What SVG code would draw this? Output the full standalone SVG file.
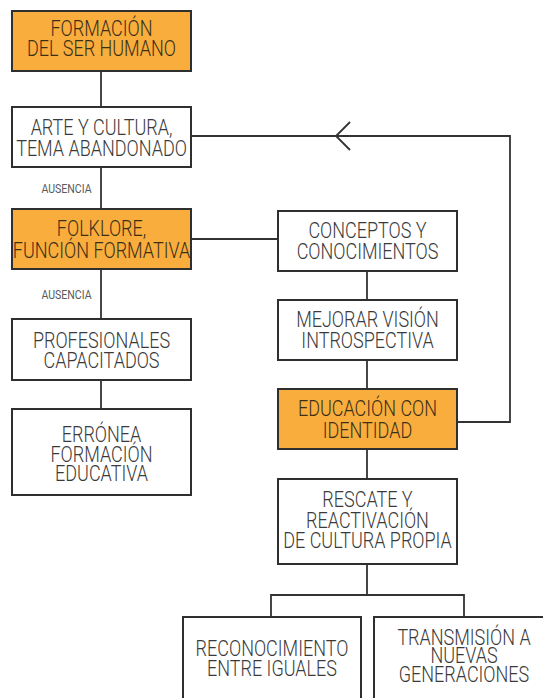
<svg xmlns="http://www.w3.org/2000/svg" width="543" height="698" viewBox="0 0 543 698">
  <style>
    .box { fill: #ffffff; stroke: #2f2f2f; stroke-width: 2; }
    .hot { fill: #f8ad3d; stroke: #2f2f2f; stroke-width: 2; }
    .line { fill: none; stroke: #333333; stroke-width: 1.8; }
    .t { font-family: Roboto, "Liberation Sans", sans-serif; font-weight: 300; font-size: 22.5px; fill: #3a3a3a; text-anchor: middle; }
    .th { fill: #3b2f18; }
    .lbl { font-family: Roboto, "Liberation Sans", sans-serif; font-weight: 400; font-size: 12px; fill: #5a5a5a; text-anchor: middle; }
  </style>

  <!-- connectors -->
  <g id="connectors">
    <path class="line" d="M101,71 V107"/>
    <path class="line" d="M101,167 V209"/>
    <path class="line" d="M101,269 V319"/>
    <path class="line" d="M101,380 V409"/>
    <path class="line" d="M191,239 H278"/>
    <path class="line" d="M367,271 V300"/>
    <path class="line" d="M367,360 V389"/>
    <path class="line" d="M367,449 V479"/>
    <path class="line" d="M457,422 H510 V136 H191"/>
    <path class="line" d="M350,122 L336,136 L350,150"/>
    <path class="line" d="M367,564 V595 M271,617 V595 H464 V617"/>
    <text class="lbl" transform="translate(66.5,0) scale(0.88 1)" x="0" y="193">AUSENCIA</text>
    <text class="lbl" transform="translate(66.5,0) scale(0.88 1)" x="0" y="299">AUSENCIA</text>
  </g>

  <g id="formacion">
    <rect class="hot" x="12" y="11" width="179" height="60"/>
    <text class="t th" transform="translate(101.5,0) scale(0.8 1)"><tspan x="0" y="36">FORMACIÓN</tspan><tspan x="0" y="56.5">DEL SER HUMANO</tspan></text>
  </g>

  <g id="arte">
    <rect class="box" x="12" y="107" width="179" height="60"/>
    <text class="t" transform="translate(101.5,0) scale(0.8 1)"><tspan x="0" y="135">ARTE Y CULTURA,</tspan><tspan x="0" y="156">TEMA ABANDONADO</tspan></text>
  </g>

  <g id="folklore">
    <rect class="hot" x="12" y="209" width="179" height="60"/>
    <text class="t th" transform="translate(101.5,0) scale(0.8 1)"><tspan x="0" y="236">FOLKLORE,</tspan><tspan x="0" y="258">FUNCIÓN FORMATIVA</tspan></text>
  </g>

  <g id="profesionales">
    <rect class="box" x="12" y="319" width="179" height="61"/>
    <text class="t" transform="translate(101.5,0) scale(0.8 1)"><tspan x="0" y="348">PROFESIONALES</tspan><tspan x="0" y="368">CAPACITADOS</tspan></text>
  </g>

  <g id="erronea">
    <rect class="box" x="12" y="409" width="179" height="86"/>
    <text class="t" transform="translate(101.5,0) scale(0.8 1)"><tspan x="0" y="442">ERRÓNEA</tspan><tspan x="0" y="462">FORMACIÓN</tspan><tspan x="0" y="481">EDUCATIVA</tspan></text>
  </g>

  <g id="conceptos">
    <rect class="box" x="278" y="211" width="179" height="60"/>
    <text class="t" transform="translate(367.5,0) scale(0.8 1)"><tspan x="0" y="238">CONCEPTOS Y</tspan><tspan x="0" y="259">CONOCIMIENTOS</tspan></text>
  </g>

  <g id="mejorar">
    <rect class="box" x="278" y="300" width="179" height="60"/>
    <text class="t" transform="translate(367.5,0) scale(0.8 1)"><tspan x="0" y="327.5">MEJORAR VISIÓN</tspan><tspan x="0" y="348.5">INTROSPECTIVA</tspan></text>
  </g>

  <g id="educacion">
    <rect class="hot" x="278" y="389" width="179" height="60"/>
    <text class="t th" transform="translate(367.5,0) scale(0.8 1)"><tspan x="0" y="416.5">EDUCACIÓN CON</tspan><tspan x="0" y="438">IDENTIDAD</tspan></text>
  </g>

  <g id="rescate">
    <rect class="box" x="278" y="479" width="179" height="85"/>
    <text class="t" transform="translate(367.5,0) scale(0.8 1)"><tspan x="0" y="507">RESCATE Y</tspan><tspan x="0" y="528">REACTIVACIÓN</tspan><tspan x="0" y="548">DE CULTURA PROPIA</tspan></text>
  </g>

  <g id="reconocimiento">
    <rect class="box" x="183" y="617" width="178" height="100"/>
    <text class="t" transform="translate(272,0) scale(0.8 1)"><tspan x="0" y="656.5">RECONOCIMIENTO</tspan><tspan x="0" y="676.5">ENTRE IGUALES</tspan></text>
  </g>

  <g id="transmision">
    <rect class="box" x="374" y="617" width="190" height="100"/>
    <text class="t" transform="translate(464,0) scale(0.8 1)"><tspan x="0" y="645">TRANSMISIÓN A</tspan><tspan x="0" y="663">NUEVAS</tspan><tspan x="0" y="682">GENERACIONES</tspan></text>
  </g>
</svg>
